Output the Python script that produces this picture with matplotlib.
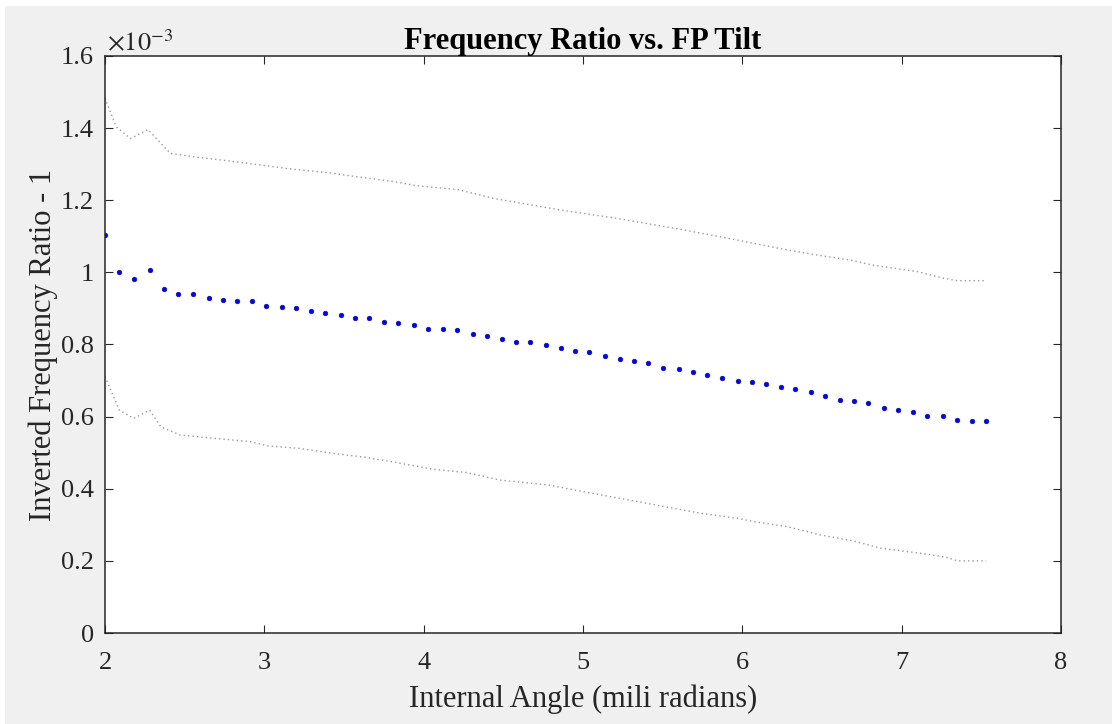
import matplotlib
matplotlib.use("Agg")
import matplotlib.pyplot as plt
from matplotlib.patches import Rectangle

# internal angle (mrad) and measured ratio (x 1e-3)
angle = [2.00, 2.09, 2.18, 2.28, 2.37, 2.46, 2.55, 2.65, 2.74, 2.83,
         2.92, 3.01, 3.11, 3.20, 3.29, 3.38, 3.48, 3.57, 3.66, 3.75,
         3.84, 3.94, 4.03, 4.12, 4.21, 4.31, 4.40, 4.49, 4.58, 4.67,
         4.77, 4.86, 4.95, 5.04, 5.14, 5.23, 5.32, 5.41, 5.50, 5.60,
         5.69, 5.78, 5.87, 5.97, 6.06, 6.15, 6.24, 6.33, 6.43, 6.52,
         6.61, 6.70, 6.79, 6.89, 6.98, 7.07, 7.16, 7.26, 7.35, 7.44, 7.53]
ratio = [1.104, 1.002, 0.982, 1.007, 0.953, 0.939, 0.939, 0.930, 0.923, 0.922,
         0.921, 0.907, 0.905, 0.900, 0.894, 0.887, 0.882, 0.874, 0.874, 0.863,
         0.860, 0.854, 0.844, 0.843, 0.840, 0.829, 0.824, 0.816, 0.808, 0.808,
         0.799, 0.789, 0.783, 0.779, 0.768, 0.759, 0.753, 0.748, 0.734, 0.732,
         0.725, 0.716, 0.708, 0.699, 0.695, 0.691, 0.682, 0.676, 0.668, 0.658,
         0.647, 0.642, 0.639, 0.623, 0.618, 0.612, 0.602, 0.601, 0.590, 0.589, 0.588]

# error bounds
upper_x = [2.00, 2.07, 2.16, 2.27, 2.41, 2.55, 2.76, 2.97, 3.18, 3.39, 3.60, 3.81,
           3.96, 4.21, 4.44, 4.86, 5.21, 5.63, 5.94, 6.26, 6.47, 6.68, 6.82, 7.10,
           7.26, 7.35, 7.53]
upper_y = [1.483, 1.404, 1.371, 1.396, 1.330, 1.321, 1.310, 1.298, 1.286, 1.277, 1.264, 1.252,
           1.240, 1.230, 1.205, 1.173, 1.150, 1.118, 1.092, 1.064, 1.048, 1.034, 1.020, 1.002,
           0.984, 0.977, 0.977]
lower_x = [2.00, 2.09, 2.18, 2.28, 2.35, 2.47, 2.68, 2.91, 3.02, 3.22, 3.43, 3.64,
           3.85, 4.06, 4.27, 4.48, 4.79, 5.00, 5.31, 5.53, 5.74, 5.97, 6.07, 6.28,
           6.49, 6.70, 6.87, 7.12, 7.28, 7.35, 7.53]
lower_y = [0.711, 0.618, 0.595, 0.618, 0.572, 0.549, 0.540, 0.531, 0.519, 0.512, 0.498, 0.487,
           0.471, 0.454, 0.445, 0.424, 0.410, 0.392, 0.367, 0.349, 0.332, 0.318, 0.309, 0.295,
           0.272, 0.255, 0.235, 0.221, 0.210, 0.200, 0.200]

plt.rcParams['font.family'] = ['Liberation Serif', 'DejaVu Serif']

fig = plt.figure(figsize=(11.12, 7.24), dpi=100)
fig.patch.set_facecolor('white')
fig.patches.append(Rectangle((5 / 1112, 0), 1, 1 - 6 / 724, transform=fig.transFigure,
                             facecolor='#f0f0f0', edgecolor='none', zorder=-10))

ax = fig.add_axes((105 / 1112, 1 - 633 / 724, 956 / 1112, 577 / 724))
ax.set_facecolor('white')

ax.plot(upper_x, upper_y, linestyle=(0, (1, 2.2)), color='0.6', lw=1.0)
ax.plot(lower_x, lower_y, linestyle=(0, (1, 2.2)), color='0.6', lw=1.0)
ax.plot(angle, ratio, linestyle='none', marker='o', markersize=3.4, color='#0000ff',
        markeredgecolor='#10107a', markeredgewidth=0.4)

ax.set_xlim(2, 8)
ax.set_ylim(0, 1.6)
ax.set_xticks([2, 3, 4, 5, 6, 7, 8])
ax.set_yticks([0, 0.2, 0.4, 0.6, 0.8, 1.0, 1.2, 1.4, 1.6])
ax.set_yticklabels(['0', '0.2', '0.4', '0.6', '0.8', '1', '1.2', '1.4', '1.6'])
ax.tick_params(direction='in', length=6, width=0.8, top=True, right=True,
               labelsize=19, colors='#262626')
ax.tick_params(axis='x', pad=14)
ax.tick_params(axis='y', pad=8)
for s in ax.spines.values():
    s.set_color('#262626')
    s.set_linewidth(1.1)

ax.set_xlabel('Internal Angle (mili radians)', fontsize=22, color='#262626', labelpad=7)
ax.set_ylabel('Inverted Frequency Ratio - 1', fontsize=22, color='#262626', labelpad=2)
ax.set_title('Frequency Ratio vs. FP Tilt', fontsize=22, fontweight='bold', pad=5)
ax.text(0.002, 1.0, r'$\times10^{-3}$', transform=ax.transAxes, fontsize=19,
        color='#262626', ha='left', va='bottom', math_fontfamily='stix')

fig.savefig('out.png', dpi=100, facecolor=fig.get_facecolor())
